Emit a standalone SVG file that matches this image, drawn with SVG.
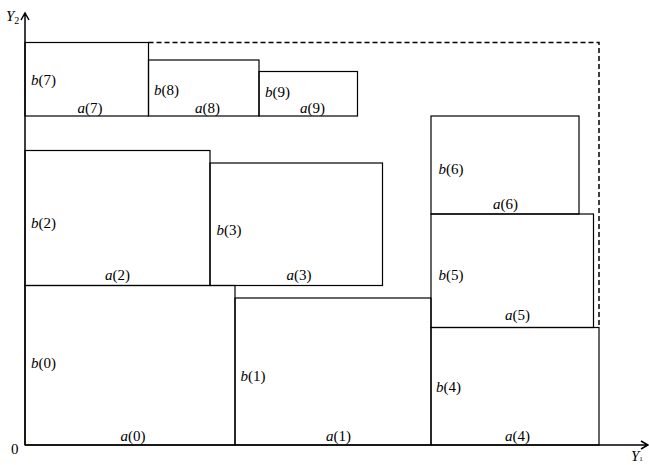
<svg xmlns="http://www.w3.org/2000/svg" width="649" height="465" viewBox="0 0 649 465">
<style>
.box{fill:none;stroke:#000;stroke-width:1.2}
.lbl{font-family:"Liberation Serif","Times New Roman",serif;font-size:15px;fill:#000}
.it{font-style:italic}
.axis{fill:none;stroke:#000;stroke-width:1.5}
.dash{fill:none;stroke:#000;stroke-width:1.5;stroke-dasharray:5,3}
</style>
<rect width="649" height="465" fill="#fff"/>
<g id="connectors">
<path class="axis" d="M25,445 V13 M21,20 L25,13 L29,20"/>
<path class="axis" d="M25,445 H648 M641,441 L648,445 L641,449"/>
<path class="dash" d="M148.5,42.5 H599 V327.5"/>
</g>
<g id="axes-labels">
<text class="lbl" x="6" y="21"><tspan class="it">Y</tspan><tspan font-size="10" dy="3">2</tspan></text>
<text class="lbl" x="631" y="461" font-size="14"><tspan class="it">Y</tspan><tspan font-size="7">1</tspan></text>
<text class="lbl" x="11" y="454">0</text>
</g>
<g id="box0"><rect class="box" x="25" y="285.5" width="210" height="159.5"/>
<text class="lbl" x="31" y="368"><tspan class="it">b</tspan>(0)</text>
<text class="lbl" x="120.5" y="441"><tspan class="it">a</tspan>(0)</text></g>
<g id="box1"><rect class="box" x="235" y="298" width="196" height="147"/>
<text class="lbl" x="240.5" y="381"><tspan class="it">b</tspan>(1)</text>
<text class="lbl" x="326" y="441"><tspan class="it">a</tspan>(1)</text></g>
<g id="box4"><rect class="box" x="431" y="327.5" width="168" height="117.5"/>
<text class="lbl" x="436" y="392"><tspan class="it">b</tspan>(4)</text>
<text class="lbl" x="505" y="441"><tspan class="it">a</tspan>(4)</text></g>
<g id="box2"><rect class="box" x="25" y="150.5" width="185" height="135"/>
<text class="lbl" x="31" y="228"><tspan class="it">b</tspan>(2)</text>
<text class="lbl" x="105" y="280"><tspan class="it">a</tspan>(2)</text></g>
<g id="box3"><rect class="box" x="210" y="163" width="172.5" height="122.5"/>
<text class="lbl" x="216.5" y="235"><tspan class="it">b</tspan>(3)</text>
<text class="lbl" x="286.5" y="280"><tspan class="it">a</tspan>(3)</text></g>
<g id="box5"><rect class="box" x="431" y="214" width="162.5" height="113.5"/>
<text class="lbl" x="438.5" y="280"><tspan class="it">b</tspan>(5)</text>
<text class="lbl" x="505" y="320"><tspan class="it">a</tspan>(5)</text></g>
<g id="box6"><rect class="box" x="431" y="116" width="148" height="98"/>
<text class="lbl" x="438.5" y="174"><tspan class="it">b</tspan>(6)</text>
<text class="lbl" x="493" y="209"><tspan class="it">a</tspan>(6)</text></g>
<g id="box7"><rect class="box" x="25" y="42.5" width="123.5" height="73.5"/>
<text class="lbl" x="31" y="85"><tspan class="it">b</tspan>(7)</text>
<text class="lbl" x="77.5" y="113"><tspan class="it">a</tspan>(7)</text></g>
<g id="box8"><rect class="box" x="148.5" y="60" width="110.5" height="56"/>
<text class="lbl" x="154" y="95"><tspan class="it">b</tspan>(8)</text>
<text class="lbl" x="195" y="113"><tspan class="it">a</tspan>(8)</text></g>
<g id="box9"><rect class="box" x="259" y="71.5" width="98.5" height="44.5"/>
<text class="lbl" x="265" y="97"><tspan class="it">b</tspan>(9)</text>
<text class="lbl" x="300" y="113"><tspan class="it">a</tspan>(9)</text></g>
</svg>
